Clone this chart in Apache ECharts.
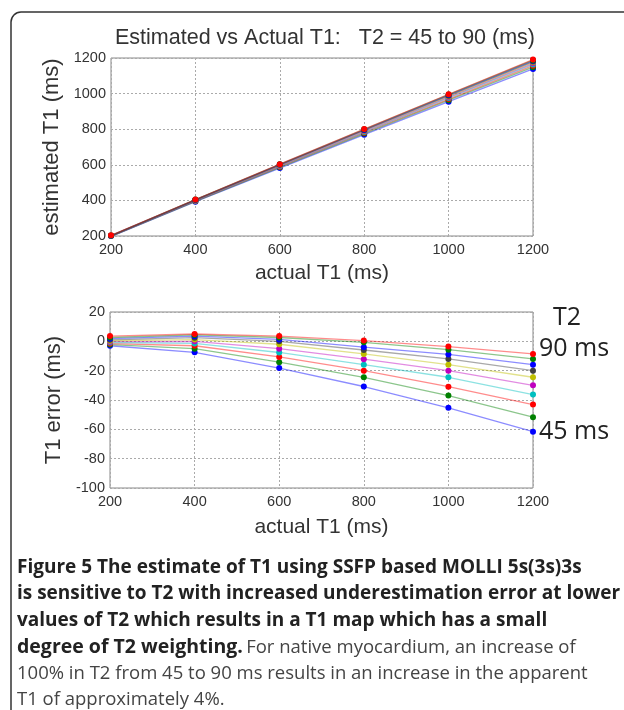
<!DOCTYPE html>
<html><head><meta charset="utf-8">
<script src="https://cdn.jsdelivr.net/npm/echarts@6/dist/echarts.min.js"></script>
<style>html,body{margin:0;padding:0;background:#fff}#c{width:624px;height:710px}</style>
</head><body><div id="c"></div>
<script>
const actualT1 = [200, 400, 600, 800, 1000, 1200];
const t2Values = [45, 50, 55, 60, 65, 70, 75, 80, 85, 90];
const seriesColors = ['#0000ff', '#008000', '#ff0000', '#00bfbf', '#bf00bf', '#bfbf00', '#404040', '#0000ff', '#008000', '#ff0000'];

// T1 error (ms) per T2 series, at actualT1 points
const err45 = [-3.0, -7.5, -18.2, -30.8, -45.3, -61.6];
const err50 = [-2.2, -5.0, -14.2, -24.5, -37.0, -51.7];
const err55 = [-1.5, -3.0, -10.6, -20.0, -30.9, -43.1];
const err60 = [-0.8, -1.4, -7.6, -15.9, -24.5, -36.3];
const err65 = [-0.2, 0.0, -5.0, -12.2, -20.0, -30.0];
const err70 = [0.4, 1.2, -2.0, -8.6, -15.9, -24.5];
const err75 = [1.0, 2.5, 0.0, -5.9, -12.0, -20.0];
const err80 = [1.8, 3.5, 1.3, -4.0, -8.9, -15.9];
const err85 = [2.6, 4.4, 2.6, -0.7, -5.7, -12.0];
const err90 = [3.6, 5.0, 3.6, 0.5, -3.6, -8.6];

// estimated T1 (ms) per T2 series
const est45 = [197, 392.5, 581.8, 769.2, 954.7, 1138.4];
const est50 = [197.8, 395, 585.8, 775.5, 963, 1148.3];
const est55 = [198.5, 397, 589.4, 780, 969.1, 1156.9];
const est60 = [199.2, 398.6, 592.4, 784.1, 975.5, 1163.7];
const est65 = [199.8, 400, 595, 787.8, 980, 1170];
const est70 = [200.4, 401.2, 598, 791.4, 984.1, 1175.5];
const est75 = [201, 402.5, 600, 794.1, 988, 1180];
const est80 = [201.8, 403.5, 601.3, 796, 991.1, 1184.1];
const est85 = [202.6, 404.4, 602.6, 799.3, 994.3, 1188];
const est90 = [203.6, 405, 603.6, 800.5, 996.4, 1191.4];

const errSets = [err45, err50, err55, err60, err65, err70, err75, err80, err85, err90];
const estSets = [est45, est50, est55, est60, est65, est70, est75, est80, est85, est90];

const xTicks = ['200', '400', '600', '800', '1000', '1200'];

const chartFont = 'Liberation Sans';
const txt = '#333';

function mkSeries(sets, axisIdx) {
  return sets.map((vals, i) => ({
    type: 'line', name: 'T2 ' + t2Values[i] + ' ms',
    xAxisIndex: axisIdx, yAxisIndex: axisIdx,
    data: actualT1.map((x, k) => [x, vals[k]]),
    symbol: 'circle', symbolSize: 6,
    itemStyle: { color: seriesColors[i] },
    lineStyle: { color: seriesColors[i], width: 1.3, opacity: 0.45 },
    emphasis: { disabled: true },
    animation: false, z: 3 + i
  }));
}

const gridLine = { show: true, lineStyle: { color: '#aaa', type: [2, 2], width: 1 } };
function xAx(gi, gap) {
  return {
    type: 'value', gridIndex: gi, min: 200, max: 1200, interval: 200,
    name: 'actual T1 (ms)', nameLocation: 'middle', nameGap: gap,
    nameTextStyle: { fontFamily: chartFont, fontSize: 21, color: txt },
    axisLine: { show: false }, axisTick: { show: false },
    axisLabel: { fontFamily: chartFont, fontSize: 14.5, color: txt, margin: 6,
      formatter: v => xTicks[actualT1.indexOf(v)] },
    splitLine: gridLine
  };
}

const option = {
  backgroundColor: '#fff',
  animation: false,
  title: {
    text: 'Estimated vs Actual T1:   T2 = 45 to 90 (ms)',
    left: 320, top: 22, textAlign: 'center',
    textStyle: { fontFamily: chartFont, fontSize: 21.5, fontWeight: 'normal', color: txt }
  },
  grid: [
    { left: 111, top: 58, width: 422, height: 178, show: true, borderColor: '#888', borderWidth: 1 },
    { left: 110, top: 312, width: 423, height: 176, show: true, borderColor: '#888', borderWidth: 1 }
  ],
  xAxis: [xAx(0, 27), xAx(1, 29)],
  yAxis: [
    { type: 'value', gridIndex: 0, min: 200, max: 1200, interval: 200,
      name: 'estimated T1 (ms)', nameLocation: 'middle', nameGap: 40,
      nameTextStyle: { fontFamily: chartFont, fontSize: 22, color: txt },
      axisLine: { show: false }, axisTick: { show: false },
      axisLabel: { fontFamily: chartFont, fontSize: 14.5, color: txt, margin: 5, formatter: v => String(v) },
      splitLine: gridLine },
    { type: 'value', gridIndex: 1, min: -100, max: 20, interval: 20,
      name: 'T1 error (ms)', nameLocation: 'middle', nameGap: 40,
      nameTextStyle: { fontFamily: chartFont, fontSize: 22, color: txt },
      axisLine: { show: false }, axisTick: { show: false },
      axisLabel: { fontFamily: chartFont, fontSize: 14.5, color: txt, margin: 5, formatter: v => String(v) },
      splitLine: gridLine }
  ],
  series: mkSeries(estSets, 0).concat(mkSeries(errSets, 1)),
  graphic: [
    { type: 'rect', shape: { x: 11, y: 12, width: 640, height: 720, r: 10 },
      style: { fill: 'none', stroke: '#333', lineWidth: 1.5 }, silent: true, z: 0 },
    { type: 'text', left: 553, top: 305, style: { text: 'T2', font: '25px "Open Sans"', fill: '#222' } },
    { type: 'text', left: 539, top: 336, style: { text: '90 ms', font: '25px "Open Sans"', fill: '#222' } },
    { type: 'text', left: 539, top: 419, style: { text: '45 ms', font: '25px "Open Sans"', fill: '#222' } },
    { type: 'text', left: 17, top: 558, style: { text: 'Figure 5 The estimate of T1 using SSFP based MOLLI 5s(3s)3s', font: 'bold 19px "Open Sans"', fill: '#222' } },
    { type: 'text', left: 17, top: 584.5, style: { text: 'is sensitive to T2 with increased underestimation error at lower', font: 'bold 19px "Open Sans"', fill: '#222' } },
    { type: 'text', left: 17, top: 611, style: { text: 'values of T2 which results in a T1 map which has a small', font: 'bold 19px "Open Sans"', fill: '#222' } },
    { type: 'text', left: 17, top: 637.5, style: {
        text: '{b|degree of T2 weighting.} {r|For native myocardium, an increase of}',
        rich: { b: { font: 'bold 19.5px "Open Sans"', fill: '#222', color: '#222' },
                r: { font: '18.5px "Open Sans"', fill: '#444', color: '#444' } } } },
    { type: 'text', left: 17, top: 664, style: { text: '100% in T2 from 45 to 90 ms results in an increase in the apparent', font: '18.5px "Open Sans"', fill: '#444' } },
    { type: 'text', left: 17, top: 690, style: { text: 'T1 of approximately 4%.', font: '18.5px "Open Sans"', fill: '#444' } }
  ]
};
const chart = echarts.init(document.getElementById('c'), null, { renderer: 'canvas' });
chart.setOption(option);
</script></body></html>
